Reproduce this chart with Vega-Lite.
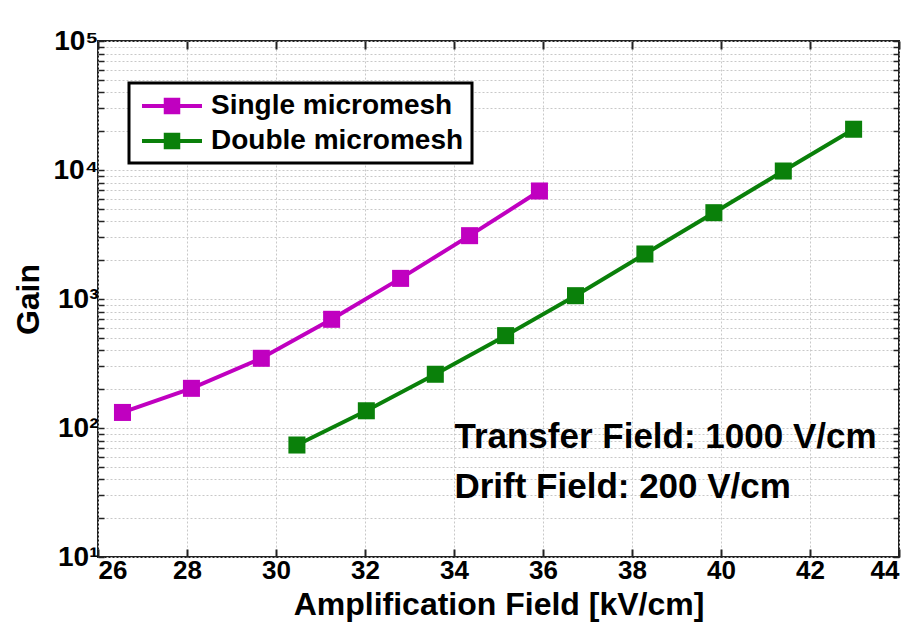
{
  "$schema": "https://vega.github.io/schema/vega-lite/v6.json",
  "width": 801,
  "height": 516,
  "autosize": "none",
  "padding": {"left": 98, "top": 41, "right": 23, "bottom": 84},
  "background": "white",
  "config": {
    "view": {"stroke": "#222", "strokeWidth": 2},
    "font": "Liberation Sans"
  },
  "datasets": {
    "gain": [
      {"series": "Single micromesh", "field": 26.55, "gain": 132},
      {"series": "Single micromesh", "field": 28.1, "gain": 203},
      {"series": "Single micromesh", "field": 29.67, "gain": 347},
      {"series": "Single micromesh", "field": 31.25, "gain": 696},
      {"series": "Single micromesh", "field": 32.8, "gain": 1445},
      {"series": "Single micromesh", "field": 34.35, "gain": 3097},
      {"series": "Single micromesh", "field": 35.92, "gain": 6875},
      {"series": "Double micromesh", "field": 30.47, "gain": 73.8},
      {"series": "Double micromesh", "field": 32.03, "gain": 136},
      {"series": "Double micromesh", "field": 33.58, "gain": 261},
      {"series": "Double micromesh", "field": 35.16, "gain": 520},
      {"series": "Double micromesh", "field": 36.73, "gain": 1061},
      {"series": "Double micromesh", "field": 38.29, "gain": 2233},
      {"series": "Double micromesh", "field": 39.84, "gain": 4667},
      {"series": "Double micromesh", "field": 41.4, "gain": 9820},
      {"series": "Double micromesh", "field": 42.98, "gain": 20700}
    ],
    "notes": [
      {"x": 34.01, "y": 85, "t": "Transfer Field: 1000 V/cm"},
      {"x": 34.01, "y": 35, "t": "Drift Field: 200 V/cm"}
    ]
  },
  "resolve": {"axis": {"x": "independent", "y": "independent"}},
  "layer": [
    {
      "data": {"name": "gain"},
      "mark": {"type": "line", "strokeWidth": 4},
      "encoding": {
        "x": {
          "field": "field", "type": "quantitative",
          "scale": {"domain": [26, 44], "nice": false, "zero": false},
          "axis": {
            "values": [26, 28, 30, 32, 34, 36, 38, 40, 42, 44],
            "title": "Amplification Field [kV/cm]",
            "titleFont": "Liberation Sans", "titleFontSize": 32, "titleFontWeight": "bold", "titleColor": "#000", "titlePadding": 6,
            "labelFont": "Liberation Sans", "labelFontSize": 26, "labelFontWeight": "bold", "labelColor": "#000", "labelPadding": 8,
            "tickSize": -8, "tickColor": "#222", "tickWidth": 2,
            "domain": false,
            "grid": true, "gridColor": "#c8c8c8", "gridDash": [2, 2], "gridWidth": 1
          }
        },
        "y": {
          "field": "gain", "type": "quantitative",
          "scale": {"type": "log", "domain": [10, 100000], "nice": false},
          "axis": {
            "values": [10, 20, 30, 40, 50, 60, 70, 80, 90, 100, 200, 300, 400, 500, 600, 700, 800, 900, 1000, 2000, 3000, 4000, 5000, 6000, 7000, 8000, 9000, 10000, 20000, 30000, 40000, 50000, 60000, 70000, 80000, 90000, 100000],
            "labelExpr": "datum.value == 10 ? '10¹' : datum.value == 100 ? '10²' : datum.value == 1000 ? '10³' : datum.value == 10000 ? '10⁴' : datum.value == 100000 ? '10⁵' : ''",
            "title": "Gain",
            "titleFont": "Liberation Sans", "titleFontSize": 32, "titleFontWeight": "bold", "titleColor": "#000", "titlePadding": 8,
            "labelFont": "Liberation Sans", "labelFontSize": 28, "labelFontWeight": "bold", "labelColor": "#000", "labelPadding": 6,
            "tickSize": -6, "tickColor": "#222", "tickWidth": 1.5,
            "domain": false,
            "grid": true, "gridColor": "#c8c8c8", "gridDash": [2, 2], "gridWidth": 1
          }
        },
        "color": {
          "field": "series", "type": "nominal",
          "scale": {"domain": ["Single micromesh", "Double micromesh"], "range": ["#C000C0", "#0A800A"]},
          "legend": {
            "orient": "none", "legendX": 31, "legendY": 42,
            "title": null,
            "symbolType": "M-2,-0.13H2V0.13H-2Z M-0.55,-0.55H0.55V0.55H-0.55Z",
            "symbolSize": 900, "symbolStrokeWidth": 0, "symbolOpacity": 1, "symbolOffset": 20,
            "labelFont": "Liberation Sans", "labelFontSize": 28, "labelFontWeight": "bold", "labelColor": "#000",
            "labelOffset": 24, "labelLimit": 500, "rowPadding": 6,
            "padding": 8, "strokeColor": "#000", "fillColor": "white",
            "encode": {
              "legend": {"update": {"strokeWidth": {"value": 3}}},
              "symbols": {"update": {"fill": {"scale": "color", "field": "value"}, "strokeWidth": {"value": 0}}}
            }
          }
        }
      }
    },
    {
      "data": {"name": "gain"},
      "mark": {"type": "point", "shape": "square", "filled": true, "size": 290, "opacity": 1},
      "encoding": {
        "x": {"field": "field", "type": "quantitative", "axis": {"orient": "top", "values": [26, 28, 30, 32, 34, 36, 38, 40, 42, 44], "labels": false, "title": null, "grid": false, "domain": false, "tickSize": -8, "tickColor": "#222", "tickWidth": 2}},
        "y": {"field": "gain", "type": "quantitative", "axis": {"orient": "right", "values": [10, 20, 30, 40, 50, 60, 70, 80, 90, 100, 200, 300, 400, 500, 600, 700, 800, 900, 1000, 2000, 3000, 4000, 5000, 6000, 7000, 8000, 9000, 10000, 20000, 30000, 40000, 50000, 60000, 70000, 80000, 90000, 100000], "labels": false, "title": null, "grid": false, "domain": false, "tickSize": -6, "tickColor": "#222", "tickWidth": 1.5}},
        "color": {"field": "series", "type": "nominal"}
      }
    },
    {
      "data": {"name": "notes"},
      "mark": {"type": "text", "align": "left", "baseline": "middle", "font": "Liberation Sans", "fontSize": 35, "fontWeight": "bold", "color": "#000"},
      "encoding": {
        "x": {"field": "x", "type": "quantitative", "axis": null},
        "y": {"field": "y", "type": "quantitative", "axis": null},
        "text": {"field": "t"}
      }
    }
  ]
}
